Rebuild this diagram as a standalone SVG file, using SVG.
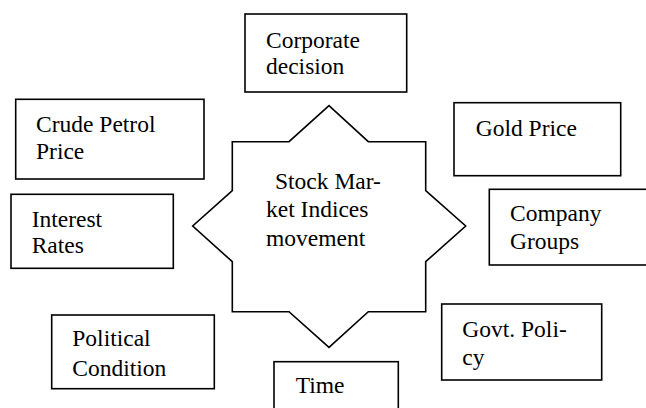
<svg xmlns="http://www.w3.org/2000/svg" width="646" height="408" viewBox="0 0 646 408">
<style>
.box{fill:#fff;stroke:#000;stroke-width:1.6}
.t{font-family:'Liberation Serif',Tinos,'Times New Roman',Times,'DejaVu Serif',serif;font-size:23.5px;fill:#000}
</style>
<rect x="0" y="0" width="646" height="408" fill="#fff"/>
<g id="connectors"></g>
<g id="center">
<polygon class="box" points="329,105.7 368.3,141.7 425.7,141.7 425.7,190.7 465.7,226 425.7,261.7 425.7,311.7 368.3,311.7 329,347.3 289,311.7 232.3,311.7 232.3,261.7 192.7,226 232.3,190.7 232.3,141.7 289,141.7"/>
<text class="t" x="275" y="189">Stock Mar-</text>
<text class="t" x="266" y="216.7">ket Indices</text>
<text class="t" x="266" y="245.7">movement</text>
</g>
<g id="corporate">
<rect class="box" x="245" y="14" width="161.7" height="78"/>
<text class="t" x="266" y="48">Corporate</text>
<text class="t" x="266" y="74">decision</text>
</g>
<g id="crude">
<rect class="box" x="15.7" y="99.3" width="188.3" height="79.7"/>
<text class="t" x="36" y="132.3">Crude Petrol</text>
<text class="t" x="36" y="159">Price</text>
</g>
<g id="interest">
<rect class="box" x="11" y="194.3" width="162.3" height="74"/>
<text class="t" x="31.7" y="226.7">Interest</text>
<text class="t" x="31.7" y="253.3">Rates</text>
</g>
<g id="gold">
<rect class="box" x="454" y="102.7" width="166.7" height="73"/>
<text class="t" x="475.7" y="135.7">Gold Price</text>
</g>
<g id="company">
<rect class="box" x="489.3" y="189.3" width="170" height="75.7"/>
<text class="t" x="510" y="220.7">Company</text>
<text class="t" x="510" y="249.3">Groups</text>
</g>
<g id="govt">
<rect class="box" x="441.7" y="304" width="160" height="76"/>
<text class="t" x="462.3" y="336.7">Govt. Poli-</text>
<text class="t" x="462.3" y="365">cy</text>
</g>
<g id="political">
<rect class="box" x="51.7" y="315" width="162.6" height="73.7"/>
<text class="t" x="72.3" y="346">Political</text>
<text class="t" x="72.3" y="375.7">Condition</text>
</g>
<g id="time">
<rect class="box" x="274" y="361.7" width="124.3" height="60"/>
<text class="t" x="295.7" y="393.3">Time</text>
</g>
</svg>
